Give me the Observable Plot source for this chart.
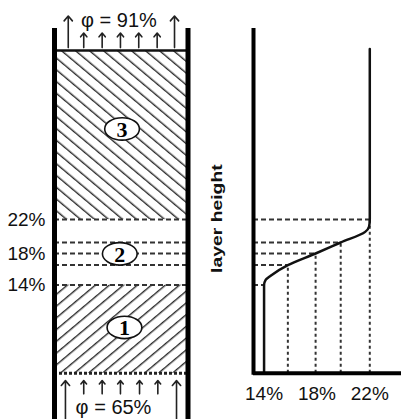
<!DOCTYPE html>
<html>
<head>
<meta charset="utf-8">
<script src="https://cdn.jsdelivr.net/npm/d3@7"></script>
<script src="https://cdn.jsdelivr.net/npm/@observablehq/plot@0.6"></script>
<style>
  html, body { margin: 0; padding: 0; background: #fff; }
  #chart { display: flex; flex-direction: row; width: 401px; height: 419px; overflow: hidden; }
  #chart svg { display: block; }
</style>
</head>
<body>
<div id="chart"></div>
<script>
// ---------- data (heights in % of the layer height, lateral positions as fraction of column width) ----------
const levelH     = [27.3, 33.5, 37.1, 40.5, 47.6];   // boundary / iso-moisture heights
const levelM     = [14, 15.8, 17.9, 19.8, 22];        // grain moisture at those heights (%)
const levelLabel = ["14%", "", "18%", "", "22%"];

const profileM = [14, 14, 14.12, 14.5, 15.8, 17.9, 19.8, 21.65, 21.95, 22, 22];
const profileH = [0, 27.3, 28.9, 30.2, 33.5, 37.1, 40.5, 43.8, 45.5, 47.6, 100.5];

const regionName   = ["1", "2", "3"];
const regionBottom = [0, 27.3, 47.6];
const regionTop    = [27.3, 47.6, 100];
const regionHatch  = ["url(#hatchUp)", "none", "url(#hatchDown)"];
const regionLabelX = [0.524, 0.489, 0.506];
const regionLabelH = [14.2, 37.0, 75.7];

const wallX = [0, 1];
const wallBottom = -14.6, wallTop = 106.8, layerTop = 100, layerBottom = 0;

const topShortX    = [0.219, 0.357, 0.494, 0.631, 0.769];
const topTallX     = [0.103, 0.899];
const bottomShortX = [0.219, 0.357, 0.494, 0.637, 0.774];
const bottomTallX  = [0.082, 0.914];
const topShortH = [100.9, 105.4], topTallH = [100.9, 110.7];
const bottomShortH = [-6.4, -2.3], bottomTallH = [-14.6, -2.3];

const airLabels = ["φ = 91%", "φ = 65%"];
const airLabelX = [0.483, 0.442];
const airLabelH = [109.3, -10.6];

const axisOriginM = 13.2, axisEndM = 24.4, axisTopH = 106.8;
const xTicks = [14, 18, 22];
const yLabel = "layer height";

// ---------- derived tables ----------
const levels  = levelH.map((h, i) => ({h, m: levelM[i], label: levelLabel[i]}));
const profile = profileM.map((m, i) => ({m, h: profileH[i]}));
const regions = regionName.map((name, i) => ({name, y1: regionBottom[i], y2: regionTop[i], fill: regionHatch[i], x: regionLabelX[i], h: regionLabelH[i]}));
const arrowsOf = (xs, hs) => xs.map(x => ({x, y1: hs[0], y2: hs[1]}));
const arrows = [
  ...arrowsOf(topShortX, topShortH), ...arrowsOf(topTallX, topTallH),
  ...arrowsOf(bottomShortX, bottomShortH), ...arrowsOf(bottomTallX, bottomTallH)
];
const airText = airLabels.map((t, i) => ({t, x: airLabelX[i], h: airLabelH[i]}));

const ellipse = {
  draw(ctx, size) {
    const r = Math.sqrt(size / Math.PI), rx = r * 1.55, ry = r, k = 0.5523;
    ctx.moveTo(rx, 0);
    ctx.bezierCurveTo(rx, k * ry, k * rx, ry, 0, ry);
    ctx.bezierCurveTo(-k * rx, ry, -rx, k * ry, -rx, 0);
    ctx.bezierCurveTo(-rx, -k * ry, -k * rx, -ry, 0, -ry);
    ctx.bezierCurveTo(k * rx, -ry, rx, -k * ry, rx, 0);
    ctx.closePath();
  }
};

const font = "'Liberation Sans', Arial, sans-serif";
const H = 419, MT = 50, MB = 46.3;

// ---------- left: the grain column ----------
const left = Plot.plot({
  width: 200, height: H,
  marginLeft: 54, marginRight: 12.5, marginTop: MT, marginBottom: MB,
  style: {fontFamily: font, background: "#fff", overflow: "visible"},
  x: {domain: [0, 1], axis: null},
  y: {domain: [0, 100], axis: null},
  marks: [
    Plot.rect(regions.filter(d => d.fill !== "none"), {x1: 0, x2: 1, y1: "y1", y2: "y2", fill: d => d.fill}),
    Plot.ruleY(levels, {y: "h", x1: 0, x2: 1, stroke: "#333", strokeWidth: 2, strokeDasharray: "5,3"}),
    Plot.ruleY([layerTop], {x1: 0, x2: 1, stroke: "#111", strokeWidth: 2.5}),
    Plot.ruleY([layerBottom], {x1: 0, x2: 1, stroke: "#222", strokeWidth: 3, strokeDasharray: "3,2"}),
    Plot.ruleX(wallX, {y1: wallBottom, y2: wallTop, stroke: "#000", strokeWidth: 5}),
    Plot.arrow(arrows, {x1: "x", x2: "x", y1: "y1", y2: "y2", stroke: "#222", strokeWidth: 1.6, headLength: 6, headAngle: 80}),
    Plot.dot(regions, {x: "x", y: "h", symbol: ellipse, r: 11.2, fill: "#fff", stroke: "#111", strokeWidth: 1.6}),
    Plot.text(regions, {x: "x", y: "h", text: "name", fontSize: 22, fontWeight: "bold", fontFamily: "'Liberation Serif', 'DejaVu Serif', serif", fill: "#000", dy: 1}),
    Plot.text(levels.filter(d => d.label), {x: 0, y: "h", text: "label", textAnchor: "end", dx: -9, fontSize: 19, fill: "#111"}),
    Plot.text(airText, {x: "x", y: "h", text: "t", fontSize: 20, fill: "#111"})
  ]
});

const svgNS = "http://www.w3.org/2000/svg";
const defs = document.createElementNS(svgNS, "defs");
defs.innerHTML = `
  <pattern id="hatchDown" patternUnits="userSpaceOnUse" width="9" height="9" patternTransform="rotate(-50)">
    <rect width="9" height="9" fill="#fff"/>
    <line x1="0.7" y1="-1" x2="0.7" y2="10" stroke="#2a2a2a" stroke-width="1.4"/>
  </pattern>
  <pattern id="hatchUp" patternUnits="userSpaceOnUse" width="9" height="9" patternTransform="rotate(50)">
    <rect width="9" height="9" fill="#fff"/>
    <line x1="0.7" y1="-1" x2="0.7" y2="10" stroke="#2a2a2a" stroke-width="1.4"/>
  </pattern>`;
left.insertBefore(defs, left.firstChild);

// ---------- right: moisture profile ----------
const right = Plot.plot({
  width: 201, height: H,
  marginLeft: 53, marginRight: 0, marginTop: MT, marginBottom: MB,
  style: {fontFamily: font, background: "#fff", overflow: "visible"},
  x: {domain: [axisOriginM, axisEndM]},
  y: {domain: [0, 100], axis: null},
  marks: [
    Plot.ruleY(levels, {y: "h", x1: axisOriginM, x2: "m", stroke: "#333", strokeWidth: 2, strokeDasharray: "5,3"}),
    Plot.ruleX(levels.slice(1), {x: "m", y1: 0, y2: "h", stroke: "#333", strokeWidth: 2, strokeDasharray: "3,3"}),
    Plot.line(profile, {x: "m", y: "h", curve: "monotone-y", stroke: "#111", strokeWidth: 2.5}),
    Plot.ruleX([axisOriginM], {y1: -0.6, y2: axisTopH, stroke: "#000", strokeWidth: 4}),
    Plot.ruleY([0], {x1: axisOriginM, x2: axisEndM, stroke: "#000", strokeWidth: 4}),
    Plot.axisX({ticks: xTicks, tickSize: 0, tickPadding: 13, tickFormat: d => d + "%", fontSize: 19, label: null, color: "#111"}),
    Plot.text([yLabel], {text: d => d, frameAnchor: "left", textAnchor: "middle", y: levelH[4] + 0.3, dx: -36.3, rotate: -90, fontSize: 15.5, fontWeight: "bold", fill: "#111"})
  ]
});

// stretch the rotated label along its reading direction (as in the reference artwork)
right.querySelectorAll("text").forEach(el => {
  if (el.textContent === yLabel) {
    const t = el.getAttribute("transform") || "";
    el.setAttribute("transform", t + " scale(1.25,1)");
  }
});

const chart = document.getElementById("chart");
chart.appendChild(left);
chart.appendChild(right);
</script>
</body>
</html>
